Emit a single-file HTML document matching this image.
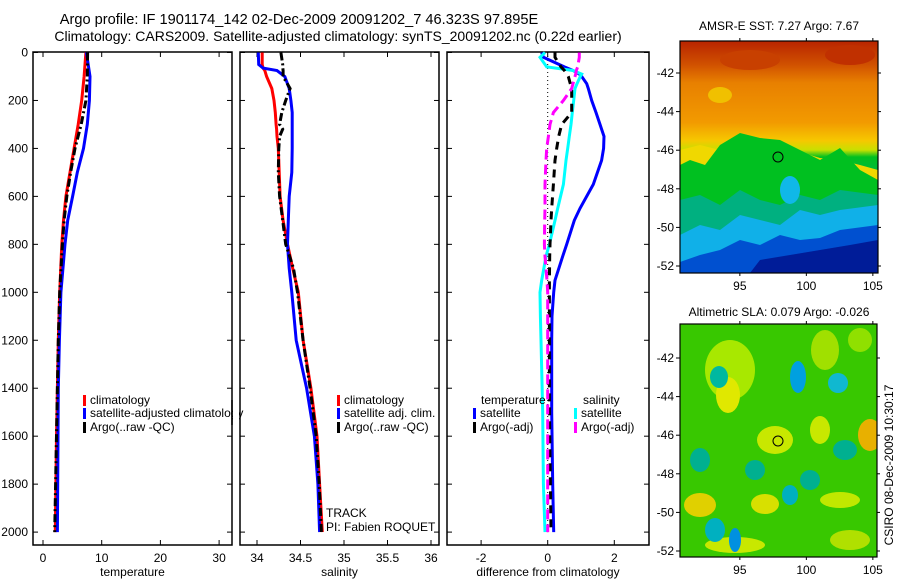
<!DOCTYPE html>
<html><head><meta charset="utf-8">
<style>
html,body{margin:0;padding:0;background:#fff;}
svg{display:block;font-family:"Liberation Sans",sans-serif;}
text{font-size:12px;fill:#000;}
</style></head>
<body>
<svg id="fig" width="900" height="580" viewBox="0 0 900 580" xmlns="http://www.w3.org/2000/svg">
<defs>
<linearGradient id="sstg" x1="0" y1="0" x2="0" y2="1">
<stop offset="0" stop-color="#b82400"/><stop offset="0.1" stop-color="#d05000"/>
<stop offset="0.18" stop-color="#e88000"/><stop offset="0.35" stop-color="#f29a00"/>
<stop offset="0.43" stop-color="#f6c800"/><stop offset="0.47" stop-color="#c8e000"/>
<stop offset="0.5" stop-color="#00c020"/>
<stop offset="0.65" stop-color="#00b060"/><stop offset="0.74" stop-color="#00c0c0"/>
<stop offset="0.82" stop-color="#00a8f0"/><stop offset="0.9" stop-color="#0050d0"/>
<stop offset="1" stop-color="#001890"/></linearGradient>
<clipPath id="c1"><rect x="680" y="41" width="198" height="232"/></clipPath>
<clipPath id="c2"><rect x="680" y="324" width="197" height="233"/></clipPath>
</defs>
<text x="299" y="24" text-anchor="middle" style="font-size:14.6px">Argo profile: IF 1901174_142 02-Dec-2009 20091202_7 46.323S 97.895E</text>
<text x="338" y="41" text-anchor="middle" style="font-size:14px">Climatology: CARS2009. Satellite-adjusted climatology: synTS_20091202.nc (0.22d earlier)</text>
<g id="plots"></g>

<!-- SST map -->
<g clip-path="url(#c1)">
<rect x="680" y="41" width="198" height="232" fill="url(#sstg)"/>
<path d="M680,150 L700,145 720,150 740,140 760,143 780,148 800,152 820,158 840,160 860,165 878,170 L878,273 680,273Z" fill="#f0d800"/>
<path d="M680,165 L690,160 705,165 720,145 740,133 760,138 780,140 800,150 820,160 840,148 860,170 878,180 L878,273 680,273Z" fill="#00c020"/>
<path d="M680,200 L700,195 720,205 740,190 760,200 780,205 800,195 820,200 840,190 878,195 L878,273 680,273Z" fill="#00b080"/>
<path d="M680,235 L700,225 720,230 740,215 760,220 780,225 800,210 820,215 840,210 878,205 L878,273 680,273Z" fill="#10b0e8"/>
<path d="M680,262 L700,255 720,250 740,240 760,245 780,235 800,240 820,238 840,230 878,225 L878,273 680,273Z" fill="#0050d0"/>
<path d="M750,273 L760,260 790,255 820,250 850,245 878,240 L878,273Z" fill="#001c98"/>
<ellipse cx="720" cy="95" rx="12" ry="8" fill="#f0c000"/>
<ellipse cx="750" cy="60" rx="30" ry="10" fill="#c84000"/>
<ellipse cx="850" cy="55" rx="25" ry="10" fill="#c03000"/>
<ellipse cx="790" cy="190" rx="10" ry="14" fill="#10b8e8"/>
</g>
<circle cx="778" cy="157" r="5" fill="none" stroke="#000"/>
<text x="779" y="30" text-anchor="middle">AMSR-E SST: 7.27 Argo: 7.67</text>

<!-- SLA map -->
<g clip-path="url(#c2)">
<rect x="680" y="324" width="197" height="233" fill="#38c800"/>
<ellipse cx="730" cy="370" rx="25" ry="30" fill="#a8e800"/>
<ellipse cx="728" cy="395" rx="12" ry="18" fill="#e0e800"/>
<ellipse cx="775" cy="440" rx="18" ry="14" fill="#c8e800"/>
<ellipse cx="765" cy="504" rx="14" ry="10" fill="#d8e000"/>
<ellipse cx="700" cy="505" rx="16" ry="12" fill="#e0d000"/>
<ellipse cx="870" cy="435" rx="12" ry="16" fill="#e8b000"/>
<ellipse cx="820" cy="430" rx="10" ry="14" fill="#c8e800"/>
<ellipse cx="840" cy="500" rx="20" ry="8" fill="#c0e800"/>
<ellipse cx="825" cy="350" rx="14" ry="20" fill="#a0e000"/>
<ellipse cx="860" cy="340" rx="12" ry="12" fill="#90e000"/>
<ellipse cx="735" cy="545" rx="30" ry="8" fill="#c8e800"/>
<ellipse cx="850" cy="540" rx="20" ry="10" fill="#b0e000"/>
<ellipse cx="719" cy="377" rx="9" ry="11" fill="#00b8a0"/>
<ellipse cx="798" cy="377" rx="8" ry="16" fill="#00a0e0"/>
<ellipse cx="838" cy="383" rx="10" ry="10" fill="#10b8d0"/>
<ellipse cx="845" cy="450" rx="12" ry="10" fill="#00b090"/>
<ellipse cx="755" cy="470" rx="10" ry="10" fill="#00b090"/>
<ellipse cx="790" cy="495" rx="8" ry="10" fill="#00b0c0"/>
<ellipse cx="715" cy="530" rx="10" ry="12" fill="#00b0c0"/>
<ellipse cx="735" cy="540" rx="6" ry="12" fill="#0090e0"/>
<ellipse cx="810" cy="480" rx="10" ry="10" fill="#00b090"/>
<ellipse cx="700" cy="460" rx="10" ry="12" fill="#00b090"/>
</g>
<circle cx="778" cy="441" r="5" fill="none" stroke="#000"/>
<text x="779" y="316" text-anchor="middle">Altimetric SLA: 0.079 Argo: -0.026</text>
<text transform="translate(893,465) rotate(-90)" text-anchor="middle">CSIRO 08-Dec-2009 10:30:17</text>
<g id="maps"></g>
</svg>
<script>
// ---- data ----
const depthT = [0,100,200,300,400,500,600,700,800,1000,1200,1400,1600,1800,2000];
const tempClim = [7.3,7.0,6.6,6.0,5.3,4.6,3.9,3.5,3.2,2.85,2.6,2.45,2.3,2.2,2.1];
const tempSat  = [7.4,8.0,7.9,7.55,6.9,5.85,5.05,4.2,3.75,3.05,2.8,2.6,2.55,2.5,2.45];
const tempArgo = [7.6,7.55,7.3,6.5,5.45,4.7,4.05,3.6,3.3,2.85,2.6,2.45,2.3,2.15,2.0];
const depthS = [0,50,65,75,100,150,200,250,300,320,350,400,500,600,700,800,900,1000,1200,1400,1600,1800,2000];
const salClim = [34.06,34.06,34.07,34.09,34.11,34.17,34.195,34.21,34.22,34.225,34.23,34.245,34.255,34.265,34.30,34.35,34.41,34.475,34.53,34.62,34.69,34.72,34.75];
const salSat  = [34.015,34.02,34.07,34.23,34.32,34.37,34.39,34.405,34.405,34.405,34.405,34.405,34.40,34.37,34.36,34.35,34.37,34.40,34.45,34.57,34.66,34.70,34.72];
const salArgo = [34.275,34.295,34.297,34.30,34.30,34.38,34.33,34.285,34.26,34.295,34.26,34.25,34.245,34.26,34.295,34.33,34.42,34.465,34.53,34.61,34.68,34.715,34.74];
const depthD = [0,20,60,75,90,100,130,150,200,250,300,350,400,450,550,650,700,800,850,950,1000,1100,1200,1500,1800,2000];
const dTempSat  = [-0.18,-0.13,0.5,0.76,0.95,1.02,1.17,1.22,1.32,1.45,1.57,1.69,1.68,1.62,1.37,0.97,0.8,0.57,0.45,0.22,0.18,0.13,0.12,0.12,0.15,0.18];
const dSalSat   = [-0.08,-0.23,-0.03,0.76,1.02,0.98,0.88,0.82,0.78,0.74,0.7,0.65,0.6,0.55,0.47,0.3,0.22,0.05,-0.05,-0.18,-0.23,-0.22,-0.2,-0.15,-0.13,-0.08];
const dTempArgo = [0.22,0.22,0.4,0.5,0.58,0.62,0.68,0.72,0.72,0.72,0.42,0.33,0.27,0.22,0.17,0.12,0.1,0.07,0.06,0.05,0.05,0.05,0.05,0.05,0.08,0.1];
const dSalArgo  = [0.95,0.95,0.9,0.86,0.84,0.82,0.76,0.72,0.47,0.17,0.07,0.02,-0.03,-0.05,-0.08,-0.08,-0.09,-0.1,-0.08,-0.02,0,0,0,0,0,0];
const depthTicks = [0,200,400,600,800,1000,1200,1400,1600,1800,2000];
const tempTicks = [0,10,20,30];
const salTicks = [34,34.5,35,35.5,36];
const salTickLabels = ["34","34.5","35","35.5","36"];
const diffTicks = [-2,0,2];
const latTicks = [-42,-44,-46,-48,-50,-52];
const lonTicks = [95,100,105];

const NS="http://www.w3.org/2000/svg";
const G=document.getElementById('plots');
function mk(tag,attrs,parent){const e=document.createElementNS(NS,tag);for(const k in attrs)e.setAttribute(k,attrs[k]);(parent||G).appendChild(e);return e;}
const yD = d => 52.5 + d*0.2398;
const TOP=52, BOT=545;
const panels=[
 {x0:33,x1:232,f:v=>43+5.87*v,ticks:tempTicks,labels:tempTicks.map(String),xl:'temperature',name:'temperature-panel'},
 {x0:240,x1:439,f:v=>257+87*(v-34),ticks:salTicks,labels:salTickLabels,xl:'salinity',name:'salinity-panel'},
 {x0:447,x1:649,f:v=>547.7+33.3*v,ticks:diffTicks,labels:diffTicks.map(String),xl:'difference from climatology',name:'difference-panel'}
];
panels.forEach((p,i)=>{
  const g=mk('g',{});
  
  
  const fr=mk('rect',{x:p.x0,y:TOP,width:p.x1-p.x0,height:BOT-TOP,fill:'none',stroke:'#000','stroke-width':1.5},g);
  
  
  p.ticks.forEach((t,j)=>{
    const x=p.f(t);
    mk('line',{x1:x,x2:x,y1:BOT,y2:BOT-5,stroke:'#000'},g);
    mk('line',{x1:x,x2:x,y1:TOP,y2:TOP+5,stroke:'#000'},g);
    const tx=mk('text',{x:x,y:BOT+17,'text-anchor':'middle'},g);
    tx.textContent=p.labels[j];
    
    
  });
  depthTicks.forEach(d=>{
    const y=yD(d);
    mk('line',{x1:p.x0,x2:p.x0+5,y1:y,y2:y,stroke:'#000'},g);
    mk('line',{x1:p.x1,x2:p.x1-5,y1:y,y2:y,stroke:'#000'},g);
    if(i===0){const t=mk('text',{x:28,y:y+4,'text-anchor':'end'},g);t.textContent=d;
      
      }
  });
  const xl=mk('text',{x:(p.x0+p.x1)/2,y:576,'text-anchor':'middle'},g);
  xl.textContent=p.xl;
  
  
});
function line(depths,vals,f,color,w,dash,name){
  const pts=depths.map((d,i)=>f(vals[i]).toFixed(1)+','+yD(d).toFixed(1)).join(' ');
  const e=mk('polyline',{points:pts,fill:'none',stroke:color,'stroke-width':w,'stroke-dasharray':dash||'none'});
  
  
}
const P=panels;
line(depthT,tempClim,P[0].f,'#ff0000',3,null,'temp-climatology-line');
line(depthT,tempSat,P[0].f,'#0000ff',3,null,'temp-satellite-line');
line(depthT,tempArgo,P[0].f,'#000',3,'8 3 2 3','temp-argo-line');
line(depthS,salClim,P[1].f,'#ff0000',3,null,'sal-climatology-line');
line(depthS,salSat,P[1].f,'#0000ff',3,null,'sal-satellite-line');
line(depthS,salArgo,P[1].f,'#000',3,'8 3 2 3','sal-argo-line');
mk('line',{x1:P[2].f(0),x2:P[2].f(0),y1:TOP,y2:yD(2000),stroke:'#000','stroke-dasharray':'1 3'});
line(depthD,dTempSat,P[2].f,'#0000ff',3,null,'diff-temp-satellite-line');
line(depthD,dSalSat,P[2].f,'#00ffff',3,null,'diff-sal-satellite-line');
line(depthD,dTempArgo,P[2].f,'#000',3,'8 6','diff-temp-argo-line');
line(depthD,dSalArgo,P[2].f,'#ff00ff',3,'10 5','diff-sal-argo-line');

function leg(x,y,color,label){
  const r=mk('rect',{x:x,y:y-9,width:3,height:11,fill:color});
  
  
  const t=mk('text',{x:x+7,y:y});t.textContent=label;
  
  
}
leg(83,404,'#ff0000','climatology');leg(83,417,'#0000ff','satellite-adjusted climatology');leg(83,431,'#000','Argo(..raw -QC)');
leg(337,404,'#ff0000','climatology');leg(337,417,'#0000ff','satellite adj. clim.');leg(337,431,'#000','Argo(..raw -QC)');
const lt=mk('text',{x:481,y:404});lt.textContent='temperature';
const ls=mk('text',{x:583,y:404});ls.textContent='salinity';
leg(473,417,'#0000ff','satellite');leg(473,431,'#000','Argo(-adj)');
leg(574,417,'#00ffff','satellite');leg(574,431,'#ff00ff','Argo(-adj)');
const tr=mk('text',{x:326,y:517});tr.textContent='TRACK';
const pi=mk('text',{x:326,y:531});pi.textContent='PI: Fabien ROQUET';
mk('rect',{x:233,y:405,width:6,height:16,fill:'#fff'});
mk('line',{x1:232,x2:232,y1:400,y2:425,stroke:'#000','stroke-width':1.5});

// map axes
const M=document.getElementById('maps');
[{x0:680,x1:878,y0:41,y1:273,latY:l=>73+(l+42)*-19.3,name:'sst-map-axes'},{x0:680,x1:877,y0:324,y1:557,latY:l=>358+(l+42)*-19.3,name:'sla-map-axes'}].forEach(m=>{
  const g=mk('g',{},M);
  
  
  mk('rect',{x:m.x0,y:m.y0,width:m.x1-m.x0,height:m.y1-m.y0,fill:'none',stroke:'#000','stroke-width':1.2},g);
  const lonX=l=>m.x0+(l-90.5)*13.3;
  latTicks.forEach(l=>{const y=m.latY(l);
    mk('line',{x1:m.x0-4,x2:m.x0,y1:y,y2:y,stroke:'#000'},g);
    mk('line',{x1:m.x1,x2:m.x1+3,y1:y,y2:y,stroke:'#000'},g);
    const t=mk('text',{x:m.x0-6,y:y+4,'text-anchor':'end'},g);t.textContent=l;});
  lonTicks.forEach(l=>{const x=lonX(l);
    mk('line',{x1:x,x2:x,y1:m.y1,y2:m.y1+3,stroke:'#000'},g);
    mk('line',{x1:x,x2:x,y1:m.y0,y2:m.y0-3,stroke:'#000'},g);
    const t=mk('text',{x:x,y:m.y1+17,'text-anchor':'middle'},g);t.textContent=l;});
});
</script>
</body></html>
